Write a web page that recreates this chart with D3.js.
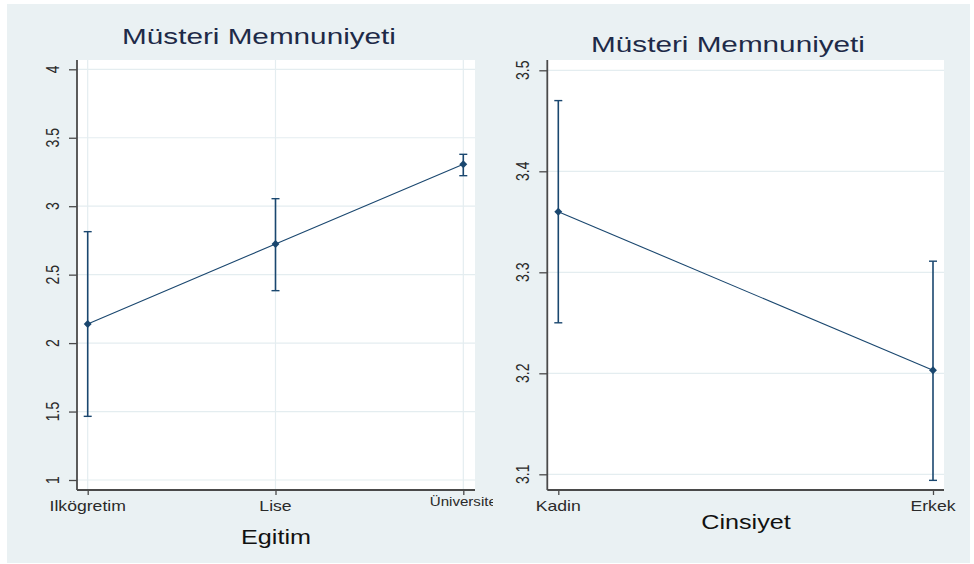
<!DOCTYPE html>
<html>
<head>
<meta charset="utf-8">
<script src="https://cdn.jsdelivr.net/npm/d3@7/dist/d3.min.js"></script>
<style>
  html, body { margin: 0; padding: 0; background: #ffffff; }
  svg { display: block; font-family: "Liberation Sans", Arial, sans-serif; }
</style>
</head>
<body>
<svg id="chart" width="974" height="564"></svg>
<script>
// Mean satisfaction with 95% confidence intervals, by education and by gender
const eduCategories = ["Ilkögretim", "Lise", "Üniversite"];
const eduMean  = [2.14, 2.724, 3.306];
const eduLower = [1.465, 2.383, 3.223];
const eduUpper = [2.814, 3.055, 3.379];
const eduTicks = [1, 1.5, 2, 2.5, 3, 3.5, 4];

const genderCategories = ["Kadin", "Erkek"];
const genderMean  = [3.36, 3.203];
const genderLower = [3.25, 3.094];
const genderUpper = [3.47, 3.311];
const genderTicks = [3.1, 3.2, 3.3, 3.4, 3.5];

const titleText = "Müsteri Memnuniyeti";

const NAVY = "#1a476f";
const GRID = "#e4edf0";
const AXIS = "#4a4a4a";
const TEXT = "#1e2a48";
const SX = 1.26; // horizontal text stretch

const svg = d3.select("#chart");

svg.append("rect")
  .attr("x", 7).attr("y", 4).attr("width", 963).attr("height", 559)
  .attr("fill", "#eaf1f3");

function stretchedText(g, x, y, txt, size, opts = {}) {
  const sx = opts.sx || SX;
  return g.append("text")
    .attr("transform", `translate(${x},${y}) scale(${sx},1)` + (opts.rotate ? ` rotate(${opts.rotate})` : ""))
    .attr("text-anchor", opts.anchor || "middle")
    .attr("font-size", size)
    .attr("fill", opts.fill || TEXT)
    .text(txt);
}

function panel(cfg) {
  const g = svg.append("g");
  const x = d3.scalePoint().domain(cfg.categories).range(cfg.xRange);
  const y = d3.scaleLinear().domain(cfg.yDomain).range(cfg.yRange);
  const [L, R, T, B] = [cfg.box.left, cfg.box.right, cfg.box.top, cfg.box.bottom];

  // plot area
  g.append("rect").attr("x", L).attr("y", T).attr("width", R - L).attr("height", B - T)
    .attr("fill", "#ffffff");

  // grid
  g.selectAll(".hg").data(cfg.ticks).join("line")
    .attr("x1", L).attr("x2", R)
    .attr("y1", d => y(d)).attr("y2", d => y(d))
    .attr("stroke", GRID).attr("stroke-width", 1.2);
  if (cfg.vgrid) {
    g.selectAll(".vg").data(cfg.categories).join("line")
      .attr("x1", d => x(d)).attr("x2", d => x(d))
      .attr("y1", T).attr("y2", B)
      .attr("stroke", GRID).attr("stroke-width", 1.2);
  }

  // axes
  const yAxis = g.append("g").attr("transform", `translate(${L},0)`)
    .call(d3.axisLeft(y).tickValues(cfg.ticks).tickSize(8).tickFormat(""));
  yAxis.select(".domain").remove();
  yAxis.selectAll("line").attr("stroke", AXIS).attr("stroke-width", 1.3);
  const xAxis = g.append("g").attr("transform", `translate(0,${B})`)
    .call(d3.axisBottom(x).tickSize(5).tickFormat(""));
  xAxis.select(".domain").remove();
  xAxis.selectAll("line").attr("stroke", AXIS).attr("stroke-width", 1.3);

  g.append("line").attr("x1", L).attr("x2", L).attr("y1", T).attr("y2", B)
    .attr("stroke", AXIS).attr("stroke-width", 1.8);
  g.append("line").attr("x1", L).attr("x2", R).attr("y1", B).attr("y2", B)
    .attr("stroke", AXIS).attr("stroke-width", 1.8);

  // y tick labels, rotated
  cfg.ticks.forEach(t => {
    stretchedText(g, cfg.yLabelX, y(t), cfg.tickFmt(t), 14, { rotate: -90, fill: "#2a2a2a" })
      .attr("dy", "0.35em");
  });

  // x tick labels
  const clipId = cfg.id + "-clip";
  g.append("clipPath").attr("id", clipId).append("rect")
    .attr("x", 0).attr("y", 0).attr("width", cfg.labelClip).attr("height", 564);
  const xl = g.append("g").attr("clip-path", `url(#${clipId})`);
  cfg.categories.forEach((c, i) => {
    const small = cfg.smallLabel && cfg.smallLabel.includes(c);
    stretchedText(xl, x(c), small ? cfg.xLabelY - 5 : cfg.xLabelY, c, small ? 12 : 14, { fill: "#2a2a2a" });
  });

  // titles
  stretchedText(g, cfg.titleX, cfg.titleY, titleText, 22, { fill: TEXT, sx: 1.35 });
  stretchedText(g, cfg.axisTitleX, cfg.axisTitleY, cfg.axisTitle, 20, { fill: "#111111" });

  // connecting line
  const pts = cfg.categories.map((c, i) => [x(c), y(cfg.mean[i])]);
  g.append("path").attr("d", d3.line()(pts))
    .attr("fill", "none").attr("stroke", NAVY).attr("stroke-width", 1.1);

  // error bars
  const cap = 4;
  cfg.categories.forEach((c, i) => {
    const cx = x(c), y0 = y(cfg.lower[i]), y1 = y(cfg.upper[i]);
    g.append("line").attr("x1", cx).attr("x2", cx).attr("y1", y0).attr("y2", y1)
      .attr("stroke", NAVY).attr("stroke-width", 1.6);
    [y0, y1].forEach(yy => g.append("line")
      .attr("x1", cx - cap).attr("x2", cx + cap).attr("y1", yy).attr("y2", yy)
      .attr("stroke", NAVY).attr("stroke-width", 1.4));
  });

  // markers
  g.selectAll(".pt").data(pts).join("path")
    .attr("transform", d => `translate(${d[0]},${d[1]})`)
    .attr("d", d3.symbol(d3.symbolDiamond2, 40)())
    .attr("fill", NAVY);
}

panel({
  id: "edu",
  categories: eduCategories, mean: eduMean, lower: eduLower, upper: eduUpper,
  ticks: eduTicks, tickFmt: d => String(d),
  yDomain: [1, 4], yRange: [480, 69.3],
  xRange: [87.7, 463.3],
  box: { left: 77, right: 475, top: 60, bottom: 490 },
  vgrid: true,
  yLabelX: 53, xLabelY: 511, labelClip: 493,
  smallLabel: ["Üniversite"],
  titleX: 259, titleY: 44,
  axisTitle: "Egitim", axisTitleX: 276, axisTitleY: 544
});

panel({
  id: "gender",
  categories: genderCategories, mean: genderMean, lower: genderLower, upper: genderUpper,
  ticks: genderTicks, tickFmt: d => d.toFixed(1),
  yDomain: [3.1, 3.5], yRange: [474.3, 70.3],
  xRange: [558.3, 933],
  box: { left: 547.3, right: 944, top: 60, bottom: 490 },
  vgrid: false,
  yLabelX: 523, xLabelY: 511, labelClip: 974,
  titleX: 728, titleY: 52,
  axisTitle: "Cinsiyet", axisTitleX: 746, axisTitleY: 529
});
</script>
</body>
</html>
